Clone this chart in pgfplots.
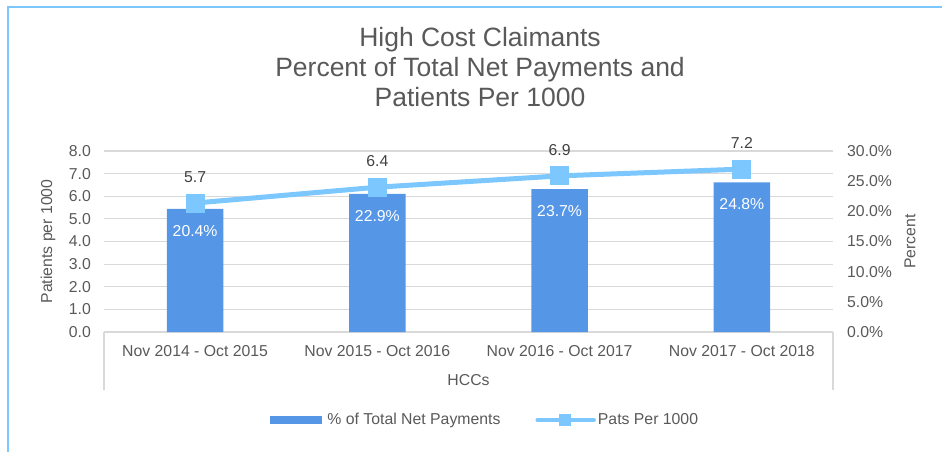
\documentclass[border=0pt]{standalone}
\usepackage{fontspec}
\setmainfont{Liberation Sans}
\usepackage{pgfplots}
\usepackage{pgfplotstable}
\pgfplotsset{compat=1.18}

\definecolor{barblue}{HTML}{5596E6}
\definecolor{lineblue}{HTML}{7DC7FF}
\definecolor{gridgray}{HTML}{D9D9D9}
\definecolor{txtgray}{HTML}{595959}
\definecolor{lblgray}{HTML}{404040}

% HCC data: percent of total net payments and patients per 1000
\pgfplotstableread{
x pct pats
0 20.4 5.7
1 22.9 6.4
2 23.7 6.9
3 24.8 7.2
}\hcc

\pgfplotsset{
  base/.style={
    at={(104bp,-332bp)}, anchor=south west,
    scale only axis, width=729bp, height=181bp,
    xmin=-0.5, xmax=3.5,
    major tick length=0pt,
    axis line style={draw=none},
    ticklabel style={font=\fontsize{15.8bp}{18bp}\selectfont, text=txtgray},
    /pgf/number format/assume math mode=true,
  },
}

\begin{document}
\begin{tikzpicture}
\useasboundingbox (0,0) rectangle (942bp,-452bp);
\draw[lineblue, line width=1.5bp] (8bp,-470bp) -- (8bp,-7bp) -- (960bp,-7bp);

% bars on the right (percent) axis, with the grid
\begin{axis}[base,
  ymin=0, ymax=30, ytick={0,5,...,30},
  axis y line*=right,
  yticklabel={\pgfmathprintnumber[fixed,fixed zerofill,precision=1]{\tick}\%},
  yticklabel style={anchor=west, inner sep=0pt, xshift=14bp},
  extra y ticks={0,3.75,...,30}, extra y tick labels={},
  extra y tick style={grid=major, major grid style={gridgray, line width=1.2bp}},
  xtick={0,1,2,3},
  xticklabels={Nov 2014 - Oct 2015, Nov 2015 - Oct 2016, Nov 2016 - Oct 2017, Nov 2017 - Oct 2018},
  xticklabel style={anchor=center, yshift=-18.7bp},
  xlabel={HCCs},
  every axis x label/.style={at={(axis description cs:0.5,-0.265)}, anchor=center,
    font=\fontsize{15.8bp}{18bp}\selectfont, text=txtgray},
  ylabel={Percent},
  every axis y label/.style={at={(axis description cs:1.1056,0.5)}, anchor=center, rotate=90,
    font=\fontsize{15.8bp}{18bp}\selectfont, text=txtgray},
]
\addplot[ybar, bar width=56.7bp, fill=barblue, draw=none,
  nodes near coords={\pgfmathprintnumber[fixed,fixed zerofill,precision=1]{\pgfplotspointmeta}\%},
  every node near coord/.append style={anchor=center, yshift=-22bp, text=white,
    font=\fontsize{15.8bp}{18bp}\selectfont},
] table[x=x, y=pct] {\hcc};
\end{axis}

% line on the left (patients per 1000) axis
\begin{axis}[base,
  ymin=0, ymax=8, ytick={0,1,...,8},
  axis y line*=left, axis x line=none,
  yticklabel={\pgfmathprintnumber[fixed,fixed zerofill,precision=1]{\tick}},
  yticklabel style={anchor=east, inner sep=0pt, xshift=-13bp},
  ylabel={Patients per 1000},
  every axis y label/.style={at={(axis description cs:-0.0768,0.5)}, anchor=center, rotate=90,
    font=\fontsize{15.8bp}{18bp}\selectfont, text=txtgray},
  title={High Cost Claimants\\Percent of Total Net Payments and\\Patients Per 1000},
  title style={at={(axis description cs:0.5158,1.431)}, anchor=center, align=center,
    font=\fontsize{26.5bp}{30bp}\selectfont, text=txtgray},
  legend columns=2,
  legend style={at={(0.523,-0.486)}, anchor=center, draw=none, fill=none,
    font=\fontsize{15.8bp}{18bp}\selectfont, text=txtgray,
    /tikz/every even column/.append style={column sep=33bp}},
  legend cell align=left,
]
\addlegendimage{legend image code/.code={
  \fill[barblue, draw=none] (0bp,-4bp) rectangle (52bp,4bp);
  \path[draw=none, fill=none] (0bp,0bp) -- (55bp,0bp);}}
\addlegendentry{\% of Total Net Payments}
\addplot[lineblue, line width=5bp, mark=square*, mark size=7bp,
  mark options={solid},
  legend image code/.code={
    \draw[lineblue, line width=4.5bp, line cap=round] (0bp,0bp) -- (56bp,0bp);
    \fill[lineblue, draw=none] (21bp,-6bp) rectangle (33bp,6bp);},
  nodes near coords={\pgfmathprintnumber[fixed,fixed zerofill,precision=1]{\pgfplotspointmeta}},
  every node near coord/.append style={anchor=center, yshift=26bp, text=lblgray,
    font=\fontsize{15.8bp}{18bp}\selectfont},
] table[x=x, y=pats] {\hcc};
\addlegendentry{Pats Per 1000}
\end{axis}

\draw[gridgray, line width=1.2bp] (104bp,-332bp) -- (104bp,-390bp);
\draw[gridgray, line width=1.2bp] (833bp,-332bp) -- (833bp,-390bp);
\end{tikzpicture}
\end{document}
